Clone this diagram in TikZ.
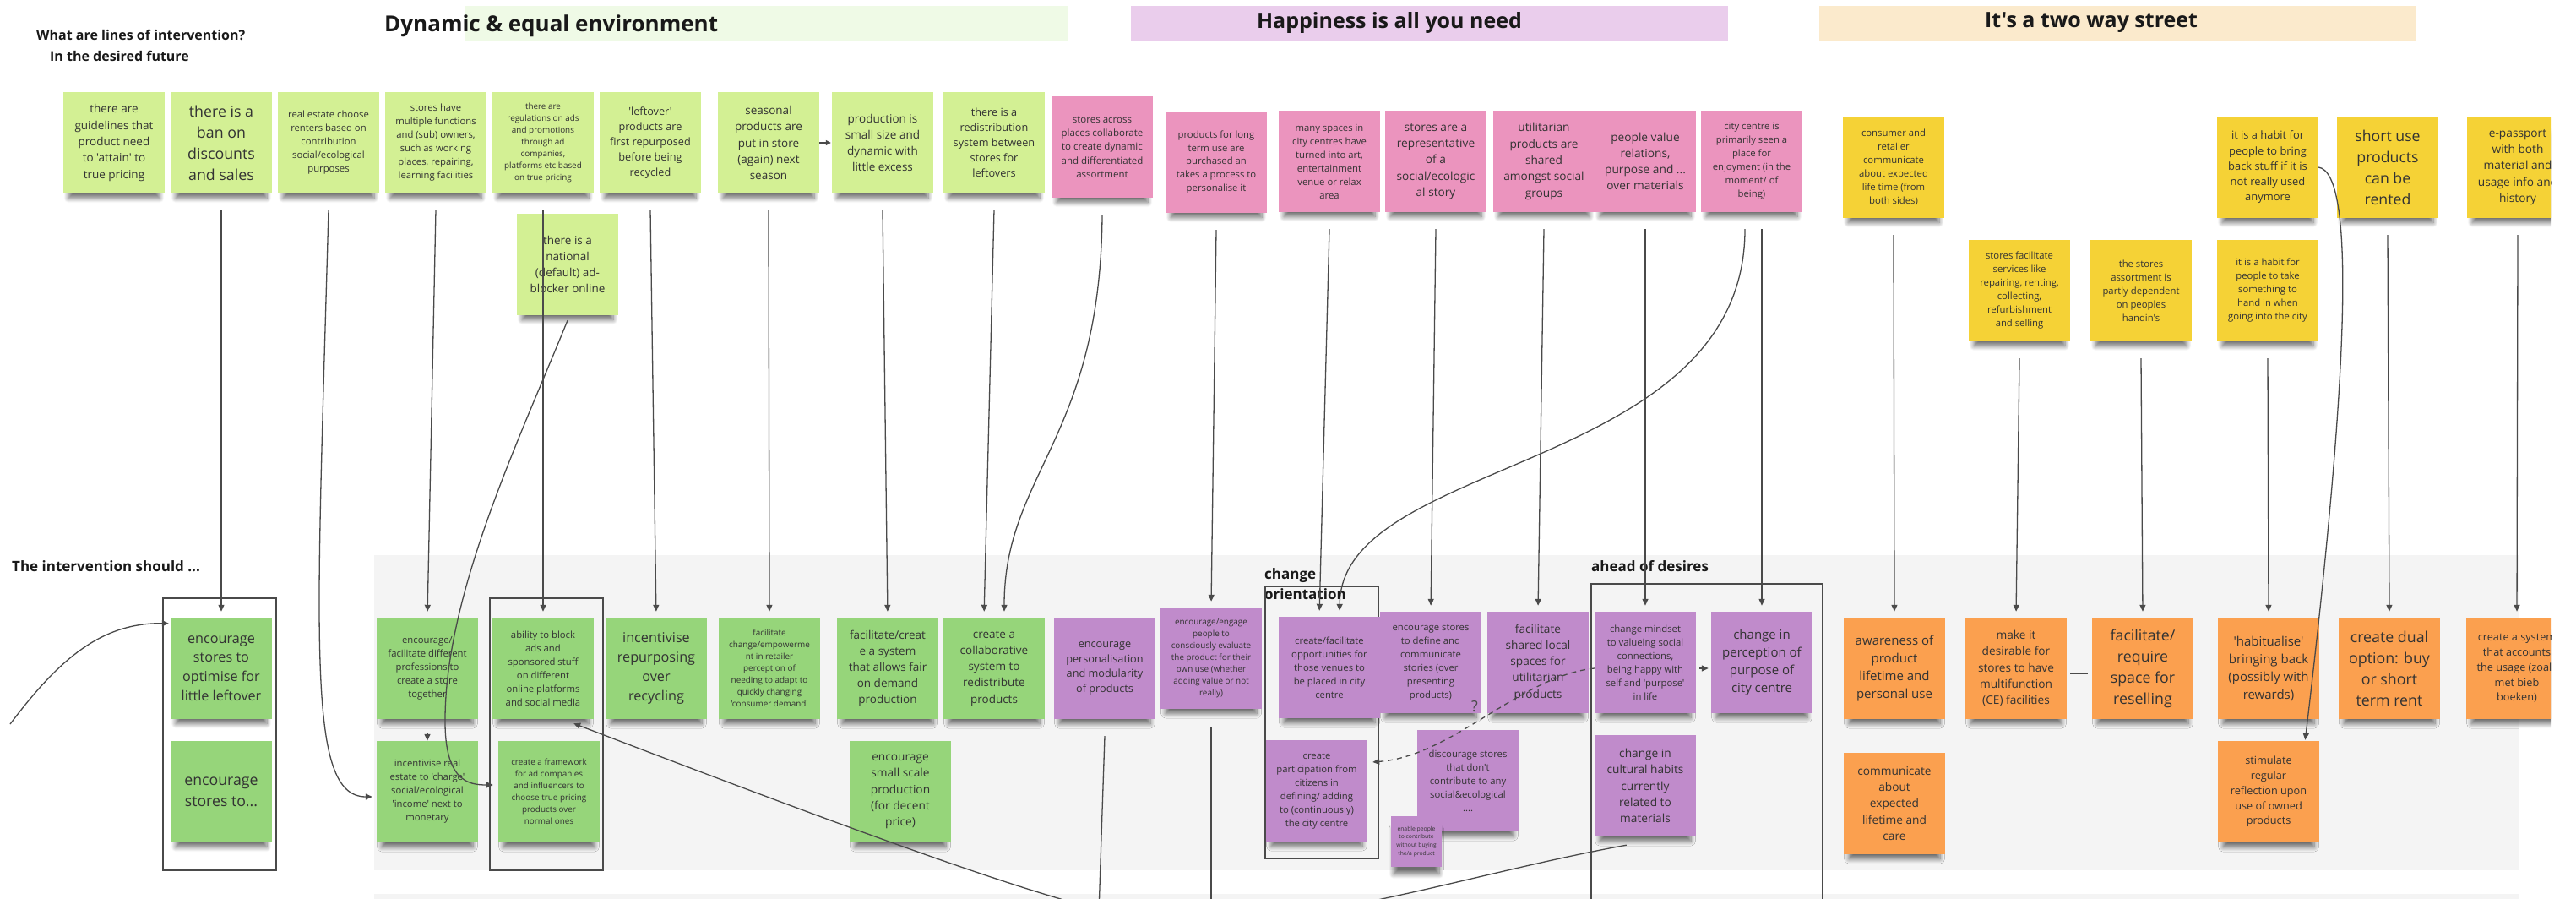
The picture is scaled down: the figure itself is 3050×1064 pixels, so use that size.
\documentclass[tikz,border=0pt]{standalone}
\usepackage{fontspec}
\setmainfont{Open Sans}[Ligatures=TeXOff]
\usetikzlibrary{arrows.meta,calc,shadows.blur}
\definecolor{topgreen}{HTML}{D3F094}
\definecolor{pinkc}{HTML}{EB94BE}
\definecolor{yellowc}{HTML}{F5D236}
\definecolor{greenb}{HTML}{96D57A}
\definecolor{purplec}{HTML}{C08BCB}
\definecolor{orangec}{HTML}{FBA04F}
\definecolor{bangreen}{HTML}{EFFAE6}
\definecolor{banpink}{HTML}{EACDEC}
\definecolor{banyellow}{HTML}{FBEACC}
\definecolor{panelc}{HTML}{F4F4F4}
\definecolor{txt}{HTML}{333333}
\definecolor{lc}{HTML}{4A4A4A}
\begin{document}
\begin{tikzpicture}[x=1pt,y=-1pt,
  fs/.style 2 args={font=\fontsize{#1}{#2}\selectfont},
  ttl/.style={font=\bfseries\fontsize{#1}{#1}\selectfont, text=black!90, inner sep=0pt},
  notebase/.style={minimum width=120pt, minimum height=120pt, inner sep=2pt, align=center, text=txt,
    blur shadow={shadow xshift=0pt, shadow yshift=-13pt, shadow scale=0.9, shadow opacity=55, shadow blur radius=6pt, shadow blur steps=8}},
  gtop/.style={notebase, fill=topgreen},
  ptop/.style={notebase, fill=pinkc},
  ytop/.style={notebase, fill=yellowc},
  gbot/.style={notebase, fill=greenb},
  pbot/.style={notebase, fill=purplec},
  obot/.style={notebase, fill=orangec},
  conn/.style={draw=lc, line width=1.3pt, -{Triangle[length=8pt,width=7pt]}, shorten >=7pt},
  plain/.style={draw=lc, line width=1.3pt},
  boxc/.style={draw=lc, line width=1.4pt},
]
\useasboundingbox (0,0) rectangle (3050,1064);
\clip (0,0) rectangle (3020,1064);

% backgrounds
\fill[panelc] (443,657) rectangle (2982,1030);
\fill[panelc] (443,1058) rectangle (2982,1070);
\fill[bangreen] (550,7) rectangle (1264,49);
\fill[banpink] (1339,7) rectangle (2046,49);
\fill[banyellow] (2154,7) rectangle (2860,49);

% titles
\node[ttl=16, anchor=west] (T1) at (43,41) {What are lines of intervention?};
\node[ttl=16, anchor=west] (T2) at (59,66) {In the desired future};
\node[ttl=26, anchor=west] (T3) at (455,31) {Dynamic \& equal environment};
\node[ttl=25] (T4) at (1645,27) {Happiness is all you need};
\node[ttl=25] (T5) at (2476,27) {It's a two way street};
\node[ttl=17, anchor=west] (T6) at (14,670) {The intervention should ...};
\node[ttl=17, anchor=west, align=left, font=\bfseries\fontsize{17}{24}\selectfont] (T7) at (1497,691) {change\\orientation};
\node[ttl=17, anchor=west] (T8) at (1884,670) {ahead of desires};

% group boxes
\draw[boxc] (193,708) rectangle (327,1030);
\draw[boxc] (580,708) rectangle (714,1030);
\draw[boxc] (1498,694) rectangle (1632,1016);
\draw[boxc] (1884,691) rectangle (2158,1080);

% top row: green
\node[gtop,fs={13.5}{19.3}] (N1) at (135,169) {there are\\guidelines that\\product need\\to 'attain' to\\true pricing};
\node[gtop,fs={17.8}{25}] (N2) at (262,169) {there is a\\ban on\\discounts\\and sales};
\node[gtop,fs={11.3}{16}] (N3) at (389,169) {real estate choose\\renters based on\\contribution\\social/ecological\\purposes};
\node[gtop,fs={11.3}{16}] (N4) at (516,169) {stores have\\multiple functions\\and (sub) owners,\\such as working\\places, repairing,\\learning facilities};
\node[gtop,fs={9.9}{14}] (N5) at (643,169) {there are\\regulations on ads\\and promotions\\through ad\\companies,\\platforms etc based\\on true pricing};
\node[gtop,fs={12.7}{18}] (N6) at (770,169) {'leftover'\\products are\\first repurposed\\before being\\recycled};
\node[gtop,fs={13.5}{19.2}] (N7) at (910,169) {seasonal\\products are\\put in store\\(again) next\\season};
\node[gtop,fs={13.5}{19.2}] (N8) at (1045,169) {production is\\small size and\\dynamic with\\little excess};
\node[gtop,fs={12.7}{18}] (N9) at (1177,169) {there is a\\redistribution\\system between\\stores for\\leftovers};
\node[ptop,fs={11.5}{16.3}] (N10) at (1305,174) {stores across\\places collaborate\\to create dynamic\\and differentiated\\assortment};
\node[gtop,fs={13.5}{19}] (ADB) at (672,313) {there is a\\national\\(default) ad-\\blocker online};

% top row: pink
\node[ptop,fs={11.3}{15.8}] (P1) at (1440,192) {products for long\\term use are\\purchased an\\takes a process to\\personalise it};
\node[ptop,fs={11.3}{16}] (P2) at (1574,191) {many spaces in\\city centres have\\turned into art,\\entertainment\\venue or relax\\area};
\node[ptop,fs={13.7}{19.4}] (P3) at (1700,191) {stores are a\\representative\\of a\\social/ecologic\\al story};
\node[ptop,fs={13.7}{19.4}] (P4) at (1828,191) {utilitarian\\products are\\shared\\amongst social\\groups};
\node[ptop,fs={13.7}{19.2}] (P5) at (1948,191) {people value\\relations,\\purpose and ...\\over materials};
\node[ptop,fs={11.3}{16}] (P6) at (2074,191) {city centre is\\primarily seen a\\place for\\enjoyment (in the\\moment/ of\\being)};

% top row: yellow
\node[ytop,fs={11.3}{16}] (Y1) at (2242,198) {consumer and\\retailer\\communicate\\about expected\\life time (from\\both sides)};
\node[ytop,fs={11.3}{16}] (Y2) at (2391,344) {stores facilitate\\services like\\repairing, renting,\\collecting,\\refurbishment\\and selling};
\node[ytop,fs={11.3}{16}] (Y3) at (2535,344) {the stores\\assortment is\\partly dependent\\on peoples\\handin's};
\node[ytop,fs={12.9}{18.2}] (Y4) at (2685,198) {it is a habit for\\people to bring\\back stuff if it is\\not really used\\anymore};
\node[ytop,fs={11.3}{16}] (Y5) at (2685,344) {it is a habit for\\people to take\\something to\\hand in when\\going into the city};
\node[ytop,fs={17.7}{25}] (Y6) at (2827,198) {short use\\products\\can be\\rented};
\node[ytop,fs={13.7}{19.2}] (Y7) at (2981,198) {e-passport\\with both\\material and\\usage info and\\history};

% bottom: green
\node[gbot,fs={16.2}{22.8}] (B1) at (262,791) {encourage\\stores to\\optimise for\\little leftover};
\node[gbot,fs={17.7}{25}] (B2) at (262,937) {encourage\\stores to...};
\node[gbot,fs={11.3}{16}] (B3) at (506,791) {encourage/\\facilitate different\\professions to\\create a store\\together};
\node[gbot,fs={11.3}{16}] (B4) at (506,937) {incentivise real\\estate to 'charge'\\social/ecological\\'income' next to\\monetary};
\node[gbot,fs={11.3}{16}] (B5) at (643,791) {ability to block\\ads and\\sponsored stuff\\on different\\online platforms\\and social media};
\node[gbot,fs={9.9}{14}] (B6) at (650,937) {create a framework\\for ad companies\\and influencers to\\choose true pricing\\products over\\normal ones};
\node[gbot,fs={16.2}{23}] (B7) at (777,791) {incentivise\\repurposing\\over\\recycling};
\node[gbot,fs={9.9}{14}] (B8) at (911,791) {facilitate\\change/empowerme\\nt in retailer\\perception of\\needing to adapt to\\quickly changing\\'consumer demand'};
\node[gbot,fs={13.5}{19.1}] (B9) at (1051,791) {facilitate/creat\\e a system\\that allows fair\\on demand\\production};
\node[gbot,fs={13.5}{19.1}] (B10) at (1177,791) {create a\\collaborative\\system to\\redistribute\\products};
\node[gbot,fs={13.7}{19.2}] (B12) at (1066,937) {encourage\\small scale\\production\\(for decent\\price)};

% bottom: purple
\node[pbot,fs={12.7}{17.8}] (B11) at (1308,791) {encourage\\personalisation\\and modularity\\of products};
\node[pbot,fs={9.9}{14}] (B13) at (1434,779) {encourage/engage\\people to\\consciously evaluate\\the product for their\\own use (whether\\adding value or not\\really)};
\node[pbot,fs={11.3}{16}] (B14) at (1574,790) {create/facilitate\\opportunities for\\those venues to\\be placed in city\\centre};
\node[pbot,fs={11.3}{16}] (B15) at (1694,784) {encourage stores\\to define and\\communicate\\stories (over\\presenting\\products)};
\node[pbot,fs={13.7}{19.3}] (B16) at (1821,784) {facilitate\\shared local\\spaces for\\utilitarian\\products};
\node[pbot,fs={11.3}{15.9}] (B17) at (1559,936) {create\\participation from\\citizens in\\defining/ adding\\to (continuously)\\the city centre};
\node[pbot,fs={11.3}{16}] (B18) at (1738,924) {discourage stores\\that don't\\contribute to any\\social\&ecological\\....};
\node[pbot,fs={6.8}{9.6}, minimum width=60pt, minimum height=60pt, inner sep=1pt] (B19) at (1677,996) {enable people\\to contribute\\without buying\\the/a product};
\node[pbot,fs={11.3}{16}] (B20) at (1948,784) {change mindset\\to valueing social\\connections,\\being happy with\\self and 'purpose'\\in life};
\node[pbot,fs={15}{21}] (B21) at (2086,784) {change in\\perception of\\purpose of\\city centre};
\node[pbot,fs={13.7}{19.2}] (B22) at (1948,930) {change in\\cultural habits\\currently\\related to\\materials};

% bottom: orange
\node[obot,fs={15}{21}] (B23) at (2243,791) {awareness of\\product\\lifetime and\\personal use};
\node[obot,fs={13.7}{19.3}] (B24) at (2243,951) {communicate\\about\\expected\\lifetime and\\care};
\node[obot,fs={13.7}{19.2}] (B25) at (2387,791) {make it\\desirable for\\stores to have\\multifunction\\(CE) facilities};
\node[obot,fs={17.8}{25}] (B26) at (2537,791) {facilitate/\\require\\space for\\reselling};
\node[obot,fs={15}{21}] (B27) at (2686,791) {'habitualise'\\bringing back\\(possibly with\\rewards)};
\node[obot,fs={17.8}{25}] (B28) at (2829,791) {create dual\\option: buy\\or short\\term rent};
\node[obot,fs={12.7}{17.9}] (B29) at (2980,791) {create a system\\that accounts\\the usage (zoals\\met bieb\\boeken)};
\node[obot,fs={12.7}{17.8}] (B30) at (2686,937) {stimulate\\regular\\reflection upon\\use of owned\\products};

% connectors
\coordinate (L0) at (12,857);
\coordinate (D1) at (1301,1080);
\coordinate (D2) at (1434,1080);
\draw[conn, shorten >=2pt] (L0) .. controls (70,780) and (120,737) .. ($(B1.north west)+(0,7)$);
\draw[conn] ($(N2.south)+(0,19)$) -- (B1.north);
\draw[conn, shorten >=5pt] ($(N3.south)+(0,19)$) .. controls (375,760) and (362,943) .. ($(B4.west)+(0,6)$);
\draw[conn] ($(N4.south)+(0,19)$) -- (B3.north);
\draw[conn, shorten >=0pt, shorten <=16pt] (B3.south) -- (B4.north);
\draw[conn] ($(N5.south)+(0,19)$) -- (B5.north);
\draw[conn, shorten >=6pt] ($(ADB.south)+(0,6)$) .. controls (615,520) and (528,700) .. (527,850) .. controls (526,925) and (555,929) .. ($(B6.west)+(0,-8)$);
\draw[conn] ($(N6.south)+(0,19)$) -- (B7.north);
\draw[conn, shorten >=1pt, -{Triangle[length=6pt,width=6pt]}] (N7.east) -- (N8.west);
\draw[conn] ($(N7.south)+(0,19)$) -- (B8.north);
\draw[conn] ($(N8.south)+(0,19)$) -- (B9.north);
\draw[conn] ($(N9.south)+(0,19)$) -- ($(B10.north)+(-12,0)$);
\draw[conn] ($(N10.south)+(0,20)$) .. controls (1303,520) and (1189,560) .. ($(B10.north)+(12,0)$);
\draw[plain] ($(B11.south)+(0,20)$) -- (D1);
\draw[conn] ($(P1.south)+(0,20)$) -- (B13.north);
\draw[plain] ($(B13.south)+(0,21)$) -- (D2);
\draw[conn] ($(P2.south)+(0,20)$) -- ($(B14.north)+(-12,0)$);
\draw[conn] ($(P6.south)+(-8,20)$) .. controls (2066,560) and (1588,540) .. ($(B14.north)+(12,0)$);
\draw[conn] ($(P3.south)+(0,20)$) -- (B15.north);
\draw[conn] ($(P4.south)+(0,20)$) -- (B16.north);
\draw[conn] ($(P5.south)+(0,20)$) -- (B20.north);
\draw[conn] ($(P6.south)+(12,20)$) -- (B21.north);
\draw[conn, shorten >=1pt] ($(B20.east)+(4,7)$) -- ($(B21.west)+(-2,7)$);
\draw[conn, shorten >=1pt, dash pattern=on 6pt off 5pt] ($(B20.west)+(0,7)$) .. controls (1800,800) and (1720,895) .. ($(B17.east)+(5,-34)$);
\node[fs={18}{20}, text=lc, inner sep=0pt] (Q) at (1746,836) {?};
\draw[conn, shorten >=0pt] ($(B22.south west)+(38,10)$) .. controls (1750,1032) and (1580,1090) .. (1420,1092) .. controls (1330,1092) and (1250,1075) .. ($(B5.south east)+(-24,5)$);
\draw[conn] ($(Y1.south)+(0,20)$) -- (B23.north);
\draw[conn] ($(Y2.south)+(0,20)$) -- (B25.north);
\draw[conn] ($(Y3.south)+(0,20)$) -- (B26.north);
\draw[conn] ($(Y5.south)+(0,20)$) -- (B27.north);
\draw[conn] ($(Y6.south)+(0,20)$) -- (B28.north);
\draw[conn] ($(Y7.south)+(0,20)$) -- (B29.north);
\draw[conn, shorten >=1pt] (Y4.east) .. controls (2790,205) and (2780,450) .. ($(B30.north east)+(-17,0)$);
\draw[plain] ($(B25.east)+(4,6)$) -- ($(B26.west)+(-5,6)$);
\end{tikzpicture}
\end{document}
